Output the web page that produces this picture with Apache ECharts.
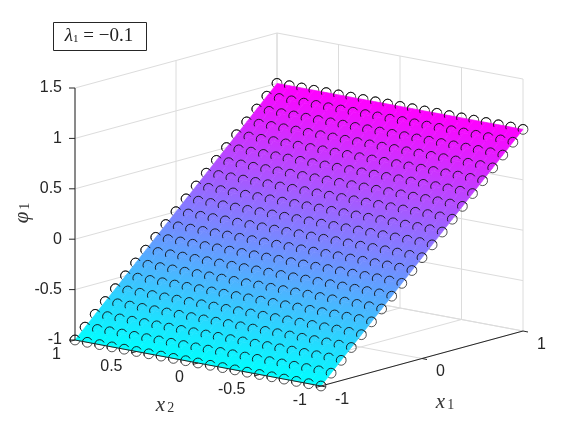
<!DOCTYPE html>
<html>
<head>
<meta charset="utf-8">
<script src="https://cdn.jsdelivr.net/npm/echarts@6/dist/echarts.min.js"></script>
<style>
  html, body { margin: 0; padding: 0; background: #fff; }
  #chart { width: 578px; height: 435px; }
</style>
</head>
<body>
<div id="chart"></div>
<script>
// grid of the surface
const x1Grid = [-1, -0.9, -0.8, -0.7, -0.6, -0.5, -0.4, -0.3, -0.2, -0.1, 0, 0.1, 0.2, 0.3, 0.4, 0.5, 0.6, 0.7, 0.8, 0.9, 1]
const x2Grid = [-1, -0.9, -0.8, -0.7, -0.6, -0.5, -0.4, -0.3, -0.2, -0.1, 0, 0.1, 0.2, 0.3, 0.4, 0.5, 0.6, 0.7, 0.8, 0.9, 1]
// phi_1 read per x1 row, it does not change along x2
const phiByX1 = [-1, -0.9, -0.8, -0.7, -0.6, -0.5, -0.4, -0.3, -0.2, -0.1, 0, 0.1, 0.2, 0.3, 0.4, 0.5, 0.6, 0.7, 0.8, 0.9, 1]

const x1Ticks = [-1, 0, 1]
const x2Ticks = [-1, -0.5, 0, 0.5, 1]
const zTicks = [-1, -0.5, 0, 0.5, 1, 1.5]
const x1Labels = ['-1', '0', '1']
const x2Labels = ['-1', '-0.5', '0', '0.5', '1']
const zLabels = ['-1', '-0.5', '0', '0.5', '1', '1.5']

const TEXT = '#262626'
const GRID = '#dcdcdc'
const SANS = '"Liberation Sans", Arial, sans-serif'
const SERIF = '"Liberation Serif", "DejaVu Serif", serif'

// orthographic view of the 3d box, result is in the pixel space of the hidden axes
function project (x1, x2, z) {
  const a = (x1 + 1) / 2
  const b = (x2 + 1) / 2
  const c = (z + 1) / 2.5
  return [321 + 202 * a - 246 * b, 386 - 55 * a - 46 * b - 252 * c]
}

// colormap "cool"
function cool (phi) {
  const t = Math.max(0, Math.min(1, (phi + 1) / 2))
  return 'rgb(' + Math.round(255 * t) + ',' + Math.round(255 * (1 - t)) + ',255)'
}

function layer (items, z, draw) {
  return {
    type: 'custom',
    coordinateSystem: 'cartesian2d',
    silent: true,
    animation: false,
    z: z,
    data: items.map((d, i) => [i, i]),
    renderItem: (params, api) => draw(items[params.dataIndex], api)
  }
}

function segment (p, q, color, width, api) {
  const a = api.coord(p)
  const b = api.coord(q)
  return {
    type: 'line',
    shape: { x1: a[0], y1: a[1], x2: b[0], y2: b[1] },
    style: { stroke: color, lineWidth: width, fill: null }
  }
}

// grid lines on the two back walls and the floor
const gridLines = []
zTicks.forEach(z => {
  gridLines.push([project(-1, 1, z), project(1, 1, z)])
  gridLines.push([project(1, 1, z), project(1, -1, z)])
})
x1Ticks.forEach(x1 => {
  gridLines.push([project(x1, 1, -1), project(x1, 1, 1.5)])
  gridLines.push([project(x1, 1, -1), project(x1, -1, -1)])
})
x2Ticks.forEach(x2 => {
  gridLines.push([project(1, x2, -1), project(1, x2, 1.5)])
  gridLines.push([project(1, x2, -1), project(-1, x2, -1)])
})

// surface cells
const cells = []
for (let i = 0; i < x1Grid.length - 1; i++) {
  for (let j = 0; j < x2Grid.length - 1; j++) cells.push([i, j])
}

function drawCell (cell, api) {
  const i = cell[0]
  const j = cell[1]
  const p = [
    project(x1Grid[i], x2Grid[j], phiByX1[i]),
    project(x1Grid[i + 1], x2Grid[j], phiByX1[i + 1]),
    project(x1Grid[i + 1], x2Grid[j + 1], phiByX1[i + 1]),
    project(x1Grid[i], x2Grid[j + 1], phiByX1[i])
  ].map(q => api.coord(q))
  // colour runs across the x2 direction
  const ex = p[3][0] - p[0][0]
  const ey = p[3][1] - p[0][1]
  const len = Math.hypot(ex, ey)
  const nx = -ey / len
  const ny = ex / len
  const t = (p[1][0] - p[0][0]) * nx + (p[1][1] - p[0][1]) * ny
  const fill = new echarts.graphic.LinearGradient(p[0][0], p[0][1], p[0][0] + t * nx, p[0][1] + t * ny, [
    { offset: 0, color: cool(phiByX1[i]) },
    { offset: 1, color: cool(phiByX1[i + 1]) }
  ], true)
  return {
    type: 'polygon',
    shape: { points: p },
    style: { fill: fill, stroke: fill, lineWidth: 0.6 }
  }
}

// every data point of the surface
const points = []
x1Grid.forEach((x1, i) => {
  x2Grid.forEach(x2 => points.push(project(x1, x2, phiByX1[i])))
})

// the half of each marker in front of the surface
const ARC_FROM = -25.5 * Math.PI / 180
const ARC_TO = -205.5 * Math.PI / 180

function drawArc (p, api) {
  const c = api.coord(p)
  return {
    type: 'arc',
    shape: { cx: c[0], cy: c[1], r: 4.9, startAngle: ARC_FROM, endAngle: ARC_TO, clockwise: false },
    style: { stroke: '#111', lineWidth: 0.9, fill: null }
  }
}

// axis lines and ticks
const axisLines = [
  [project(-1, 1, -1), project(-1, 1, 1.5)],
  [project(-1, 1, -1), project(-1, -1, -1)],
  [project(-1, -1, -1), project(1, -1, -1)]
]
zTicks.forEach(z => {
  const p = project(-1, 1, z)
  axisLines.push([p, [p[0] - 6, p[1]]])
})
x1Ticks.forEach(x1 => {
  const p = project(x1, -1, -1)
  axisLines.push([p, [p[0] + 5, p[1] + 1]])
})
x2Ticks.forEach(x2 => {
  const p = project(-1, x2, -1)
  axisLines.push([p, [p[0] - 5, p[1] + 1.4]])
})

// tick labels
const tickLabels = []
zTicks.forEach((z, i) => tickLabels.push({ at: project(-1, 1, z), text: zLabels[i], dx: -13, dy: 0, align: 'right' }))
x2Ticks.forEach((x2, i) => tickLabels.push({ at: project(-1, x2, -1), text: x2Labels[i], dx: -14, dy: 15, align: 'right' }))
x1Ticks.forEach((x1, i) => tickLabels.push({ at: project(x1, -1, -1), text: x1Labels[i], dx: 14, dy: 13.5, align: 'left' }))

function drawLabel (d, api) {
  const c = api.coord(d.at)
  return {
    type: 'text',
    style: {
      x: c[0] + d.dx,
      y: c[1] + d.dy,
      text: d.text,
      align: d.align,
      verticalAlign: 'middle',
      fill: TEXT,
      font: '16px ' + SANS
    }
  }
}

const mathRich = {
  v: { fontFamily: SERIF, fontStyle: 'italic', fontSize: 21, fill: '#333' },
  s: { fontFamily: SERIF, fontSize: 14, fill: '#333', padding: [7, 0, 0, 2] },
  t: { fontFamily: SERIF, fontSize: 19, fill: '#222' },
  l: { fontFamily: SERIF, fontStyle: 'italic', fontSize: 19, fill: '#222' },
  b: { fontFamily: SERIF, fontSize: 11, fill: '#222', padding: [6, 0, 0, 0] }
}

function mathText (text, x, y, rotation) {
  return {
    type: 'text',
    x: x,
    y: y,
    rotation: rotation || 0,
    style: { text: text, rich: mathRich, align: 'center', verticalAlign: 'middle' }
  }
}

const chart = echarts.init(document.getElementById('chart'), null, { renderer: 'canvas' })
chart.setOption({
  animation: false,
  backgroundColor: '#fff',
  grid: { left: 0, right: 0, top: 0, bottom: 0 },
  xAxis: { type: 'value', min: 0, max: 578, show: false },
  yAxis: { type: 'value', min: 0, max: 435, inverse: true, show: false },
  series: [
    layer(gridLines, 1, (d, api) => segment(d[0], d[1], GRID, 1, api)),
    {
      name: 'markers',
      type: 'scatter',
      z: 2,
      silent: true,
      animation: false,
      symbol: 'circle',
      symbolSize: 9.8,
      itemStyle: { color: 'rgba(0,0,0,0)', borderColor: '#111', borderWidth: 0.9 },
      data: points
    },
    layer(cells, 3, drawCell),
    layer(points, 4, drawArc),
    layer(axisLines, 5, (d, api) => segment(d[0], d[1], TEXT, 1, api)),
    layer(tickLabels, 6, drawLabel)
  ],
  graphic: [
    {
      type: 'rect',
      shape: { x: 53.5, y: 22.5, width: 93, height: 28 },
      style: { fill: '#fff', stroke: '#262626', lineWidth: 1 }
    },
    mathText('{l|λ}{b|1}{t| = −0.1}', 99, 36),
    mathText('{v|x}{s|2}', 165, 405),
    mathText('{v|x}{s|1}', 445, 402),
    mathText('{v|φ}{s|1}', 22, 213, Math.PI / 2)
  ]
})
</script>
</body>
</html>
